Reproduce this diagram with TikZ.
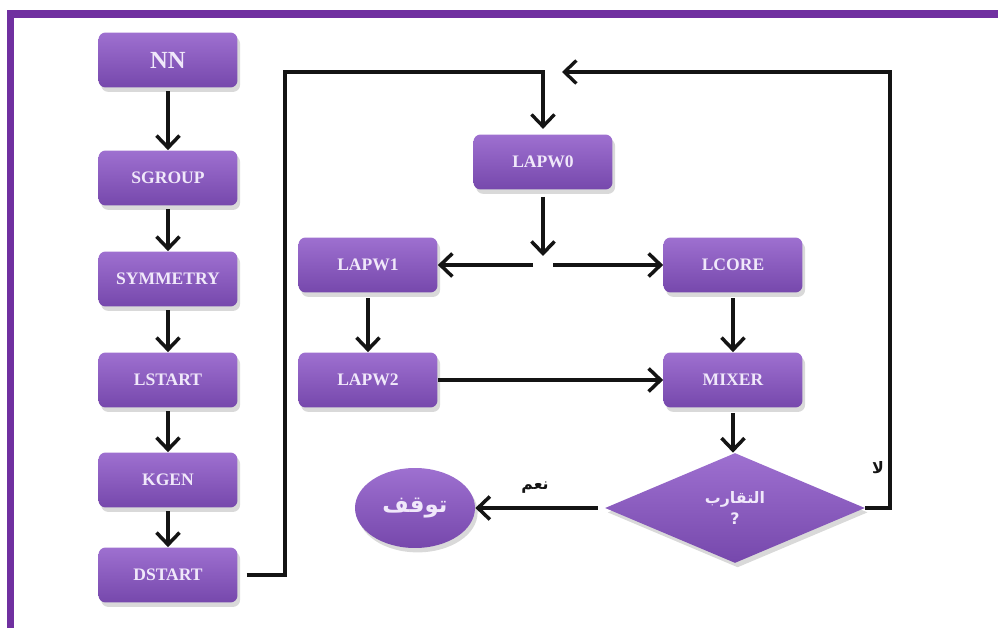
\documentclass[tikz,border=0pt]{standalone}
\usepackage{fontspec}
\setmainfont{Liberation Serif}
\newfontfamily\arabicfont[Script=Arabic]{DejaVu Sans}
\TeXXeTstate=1
\usepackage{xcolor}
\usetikzlibrary{shapes.geometric,arrows.meta,shadows,positioning}

\definecolor{framecol}{RGB}{112,48,160}
\definecolor{boxtop}{RGB}{158,112,208}
\definecolor{boxbot}{RGB}{118,72,172}
\definecolor{boxtext}{RGB}{240,232,250}
\definecolor{linecol}{RGB}{20,20,20}

\tikzset{
    block/.style={rounded corners=4pt, top color=boxtop, bottom color=boxbot,
        minimum width=2.78cm, minimum height=1.1cm, text=boxtext,
        font=\bfseries\fontsize{10}{12}\selectfont,
        drop shadow={shadow xshift=1.5pt, shadow yshift=-2.5pt, opacity=0.3}},
    decision/.style={diamond, aspect=2.4, inner sep=0pt, minimum width=5.2cm,
        minimum height=2.2cm, top color=boxtop, bottom color=boxbot, text=boxtext,
        align=center, font=\arabicfont\bfseries\fontsize{9}{12}\selectfont,
        drop shadow={shadow xshift=1.5pt, shadow yshift=-2.5pt, opacity=0.3}},
    terminal/.style={ellipse, minimum width=2.4cm, minimum height=1.6cm,
        top color=boxtop, bottom color=boxbot, text=boxtext,
        font=\arabicfont\bfseries\fontsize{13}{15}\selectfont,
        drop shadow={shadow xshift=1.5pt, shadow yshift=-2.5pt, opacity=0.3}},
    flow/.style={draw=linecol, line width=2pt,
        -{Straight Barb[length=2.4mm,width=4.6mm]}},
    loop/.style={flow, line width=1.9pt},
    lbl/.style={text=linecol, font=\arabicfont\bfseries\fontsize{9}{11}\selectfont}
}

\begin{document}
\begin{tikzpicture}[x=0.02cm, y=-0.02cm]
    \useasboundingbox (0,0) rectangle (998,628);
    % Frame
    \draw[framecol, line width=0.16cm, line join=miter] (10.5,640) -- (10.5,14) -- (998,14);

    % Left column
    \node[block, font=\bfseries\fontsize{14}{16}\selectfont] (nn) at (168,60) {NN};
    \node[block] (sgroup) at (168,178) {SGROUP};
    \node[block] (symmetry) at (168,279) {SYMMETRY};
    \node[block] (lstart) at (168,380) {LSTART};
    \node[block] (kgen) at (168,480) {KGEN};
    \node[block] (dstart) at (168,575) {DSTART};
    \foreach \a/\b in {nn/sgroup, sgroup/symmetry, symmetry/lstart, lstart/kgen, kgen/dstart} {
        \draw[flow, shorten <=2pt] (\a) -- (\b);
    }

    % SCF cycle
    \node[block] (lapw0) at (543,162) {LAPW0};
    \node[block] (lapw1) at (368,265) {LAPW1};
    \node[block] (lcore) at (733,265) {LCORE};
    \node[block] (lapw2) at (368,380) {LAPW2};
    \node[block] (mixer) at (733,380) {MIXER};
    \node[decision] (conv) at (735,508) {\beginR التقارب\endR\\?};
    \node[terminal] (stop) at (415,508) {\beginR توقف\endR};

    \coordinate (split) at (543,256);
    \coordinate (splitl) at (533,265);
    \coordinate (splitr) at (553,265);
    \draw[flow, shorten <=4pt] (lapw0) -- (split);
    \draw[flow] (splitl) -- (lapw1);
    \draw[flow] (splitr) -- (lcore);
    \draw[flow, shorten <=3pt] (lapw1) -- (lapw2);
    \draw[flow, shorten <=3pt] (lcore) -- (mixer);
    \draw[flow] (lapw2) -- (mixer);
    \draw[flow, shorten <=3pt] (mixer) -- (mixer |- conv.north);
    \draw[flow, shorten <=4pt] (conv) -- (stop);

    % Loops
    \coordinate (loopl) at (285,72);
    \coordinate (loopr) at (890,72);
    \coordinate (back) at (562,72);
    \draw[loop, shorten <=5pt, shorten >=3pt] (dstart.east) -| (loopl) -| (lapw0.north);
    \draw[loop] (conv.east) -| (loopr) -- (back);

    % Labels
    \node[lbl] (yes) at (535,488) {\beginR نعم\endR};
    \node[lbl] (no) at (878,468) {\beginR لا\endR};
\end{tikzpicture}
\end{document}
